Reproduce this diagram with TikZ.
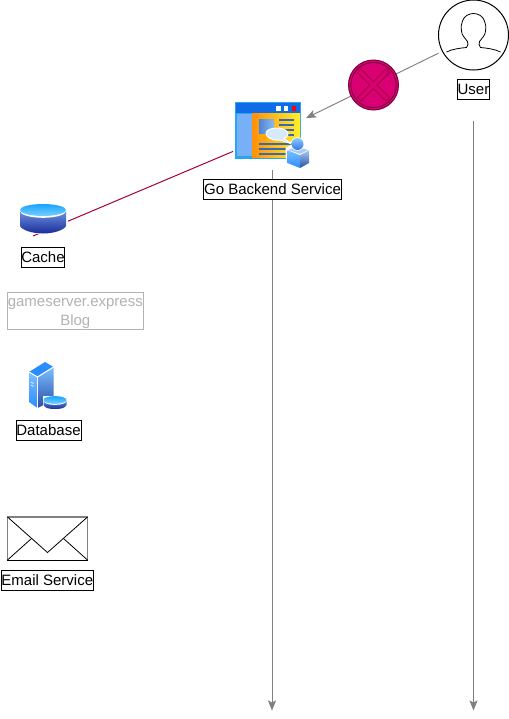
\documentclass[tikz,border=0pt]{standalone}
\usepackage{fontspec}
\setmainfont{Liberation Sans}
\usetikzlibrary{arrows.meta}
\definecolor{flowgray}{HTML}{808080}
\definecolor{crimsonline}{HTML}{A50040}
\definecolor{crimsondark}{HTML}{7A0040}
\definecolor{crimsonfill}{HTML}{D80073}
\definecolor{paleline}{HTML}{B3B3B3}
\definecolor{iconedge}{HTML}{2AA5F0}
\definecolor{titlebar}{HTML}{0F6CE6}
\definecolor{sidepanel}{HTML}{78B0F8}
\definecolor{winorange}{HTML}{FF9008}
\definecolor{winyellow}{HTML}{FFF02A}
\definecolor{rowblue}{HTML}{3A68B8}
\definecolor{picleft}{HTML}{4C86D8}
\definecolor{picright}{HTML}{8CB8EE}
\definecolor{bubble}{HTML}{D6EAFB}
\definecolor{facelight}{HTML}{7CC0FF}
\definecolor{facemid}{HTML}{2A8CFF}
\definecolor{facedark}{HTML}{2A4CA8}
\definecolor{facetop}{HTML}{A8CCF4}
\definecolor{headtop}{HTML}{8CC8FF}
\definecolor{headbot}{HTML}{3478E8}
\definecolor{disktop}{HTML}{18A4FF}
\definecolor{diskpale}{HTML}{78D0FF}
\definecolor{diskbody}{HTML}{6C92DC}
\definecolor{diskdeep}{HTML}{1A2C9C}
\tikzset{
  flow/.style={draw=flowgray,line width=0.7pt,-{Stealth[length=7.5pt,width=6pt,inset=1.5pt]}},
  crimsonflow/.style={draw=crimsonline,line width=0.75pt},
  labelbox/.style={draw=black,fill=white,line width=0.75pt,font=\fontsize{11.25}{13}\selectfont,text=black,inner sep=0pt,minimum height=15pt,anchor=center,text height=9.5pt,text depth=2pt},
  iconbox/.style={inner sep=0pt,outer sep=0pt},
}
\begin{document}
\begin{tikzpicture}[x=0.75pt,y=-0.75pt]
\useasboundingbox[fill=white] (0,0) rectangle (509,719);

% anchors for connectors (drawn below the icons)
\node[iconbox,minimum width=54.75pt,minimum height=51pt] (backend) at (269.5,136) {};
\node[iconbox,circle,minimum size=58.4pt] (user) at (473.5,36) {};
\coordinate (cacheend) at (33,236);
\coordinate (backenddown) at (272,170);
\coordinate (backendbottom) at (272,710.5);
\coordinate (userdown) at (473.5,121);
\coordinate (userbottom) at (473.5,710.5);

\draw[flow] (user) -- (backend);
\draw[crimsonflow] (backend) -- (cacheend);
\draw[flow] (backenddown) -- (backendbottom);
\draw[flow] (userdown) -- (userbottom);

% user icon
\draw[black,line width=0.75pt,fill=white] (473.5,35) circle (35);
\draw[black,line width=0.6pt,line join=round]
  (446.5,52) .. controls (452,49) and (461,48) .. (466.5,47.5)
  .. controls (468.5,46) and (468,43) .. (467.5,41.5)
  .. controls (465,38) and (461.5,35) .. (461.5,31)
  .. controls (461,27) and (461,24) .. (462.5,21)
  .. controls (464,16) and (469,13.5) .. (473.5,13.5)
  .. controls (478,13.5) and (483,16) .. (484.5,21)
  .. controls (486,24) and (486,27) .. (485.5,31)
  .. controls (485.5,35) and (482,38) .. (479.5,41.5)
  .. controls (479,43) and (478.5,46) .. (480.5,47.5)
  .. controls (486,48) and (495,49) .. (500.5,52);

% cross marker
\node[circle,draw=crimsondark,fill=crimsonfill,line width=0.75pt,minimum size=37.5pt,inner sep=0pt] (stop) at (373.5,85) {};
\draw[crimsondark,line width=0.7pt] (373.5,85) circle (22.6);
\draw[crimsonline,line width=0.6pt,line join=miter]
  (373.5,81.7) -- (386,69) -- (389.5,72.5) -- (377,85) -- (389.5,97.5) -- (386,101) -- (373.5,88.5)
  -- (361,101) -- (357.5,97.5) -- (370,85) -- (357.5,72.5) -- (361,69) -- cycle;

% backend window icon
\fill[white] (233.5,100.5) rectangle (302.5,160.5);
\fill[iconedge] (235,102) rectangle (301,159);
\fill[titlebar] (236,103) rectangle (300,113);
\fill[white] (276,106) rectangle (280.5,110.5);
\fill[white] (283.5,106) rectangle (288,110.5);
\fill[red] (291.5,106) rectangle (295.5,110.5);
\shade[left color=winorange,right color=winyellow] (252,113.5) rectangle (300,157);
\fill[sidepanel] (236.5,114) rectangle (252,155.5);
\shade[left color=picleft,right color=picright] (259,119) rectangle (274,133);
\foreach \yy/\xa in {120/279,125/279,130/279,135/284,144/259,149/259,154/259}
  \draw[rowblue,line width=0.8pt] (\xa,\yy) -- (294,\yy);
\path[fill=bubble,draw=white,line width=0.7pt] (277,128) .. controls (285,128) and (289,132) .. (288,135)
  .. controls (287,137) and (285,138) .. (284,138.5) -- (292,144) -- (280,140)
  .. controls (272,141) and (266,137) .. (266,133.5) .. controls (266,130) and (271,128) .. (277,128) -- cycle;
\fill[white] (285.5,148) -- (297,142) -- (310.5,148.5) -- (310.5,164) -- (300,169.5) -- (286,164) -- cycle;
\shade[top color=facelight,bottom color=facemid] (287.5,150) -- (300,155) -- (300,168) -- (287.5,163) -- cycle;
\shade[top color=facetop,bottom color=facedark] (300,155) -- (309,150) -- (309,163) -- (300,168) -- cycle;
\fill[white] (287.5,150) -- (296,146) -- (309,150) -- (300,155) -- cycle;
\fill[facetop] (288.5,150) -- (296,146.5) -- (308,150) -- (300,154) -- cycle;
\fill[white] (297.5,144) circle (6.8);
\shade[top color=headtop,bottom color=headbot] (297.5,144) circle (6);

% cache icon
\fill[white] (18.5,203) rectangle (67.5,234);
\shade[top color=diskbody,bottom color=diskdeep] (20,211) -- (20,226)
  .. controls (22,230) and (32,233.5) .. (43,233.5) .. controls (54,233.5) and (64,230) .. (66,226) -- (66,211) -- cycle;
\fill[white] (43,211) ellipse (23 and 6.8);
\shade[top color=disktop,bottom color=diskpale] (43,210) ellipse (23 and 6);

% database icon
\shade[top color=facelight,bottom color=facemid] (29,372) -- (37.5,377) -- (37.5,408) -- (29,402) -- cycle;
\shade[top color=facelight,bottom color=facedark] (37.5,377) -- (53.5,367) -- (53.5,400) -- (37.5,408) -- cycle;
\fill[facemid] (29,372) -- (45,362) -- (53.5,367) -- (37.5,377) -- cycle;
\draw[white,line width=0.8pt] (29,372) -- (37.5,377) -- (53.5,367);
\draw[white,line width=0.8pt] (37.5,377) -- (37.5,408);
\draw[white,line width=0.5pt] (31,382) -- (33.5,383.5) (31,385) -- (33.5,386.5);
\fill[white] (43,396) rectangle (67,410);
\shade[top color=diskbody,bottom color=diskdeep] (43.5,400) -- (43.5,405)
  .. controls (45,408.5) and (50,409) .. (55,409) .. controls (60,409) and (65,408.5) .. (66.5,405) -- (66.5,400) -- cycle;
\fill[white] (55,400.5) ellipse (11.8 and 4.4);
\shade[top color=disktop,bottom color=diskpale] (55,400) ellipse (11.5 and 3.9);

% envelope
\draw[black,line width=0.6pt,fill=white] (7.5,517) rectangle (87.5,560);
\draw[flowgray,line width=1.3pt] (7,517) -- (88,517);
\draw[flowgray,line width=0.9pt] (7.5,517) -- (7.5,560);
\draw[flowgray,line width=0.9pt] (87.5,517) -- (87.5,560);
\draw[black,line width=0.6pt] (7.5,517) -- (47.5,552.5) -- (87.5,517);
\draw[black,line width=0.6pt] (7.5,560) -- (31.7,538.3) (87.5,560) -- (63.3,538.3);

% labels
\node[labelbox,minimum width=103.5pt] (lbackend) at (272.5,189.5) {Go Backend Service};
\node[labelbox,minimum width=24pt] (luser) at (473.5,89.5) {User};
\node[labelbox,minimum width=32.25pt] (lcache) at (43,257) {Cache};
\node[labelbox,minimum width=48.75pt] (ldb) at (48.5,430) {Database};
\node[labelbox,minimum width=69pt] (lmail) at (47.3,580) {Email Service};
\node[draw=paleline,fill=white,line width=0.75pt,text=paleline,font=\fontsize{11.25}{13.5}\selectfont,align=center,
      inner sep=0pt,minimum width=102pt,minimum height=27.75pt] (blog) at (75.3,311) {gameserver.express\\[1pt]Blog\\[-15pt]};
\end{tikzpicture}
\end{document}
